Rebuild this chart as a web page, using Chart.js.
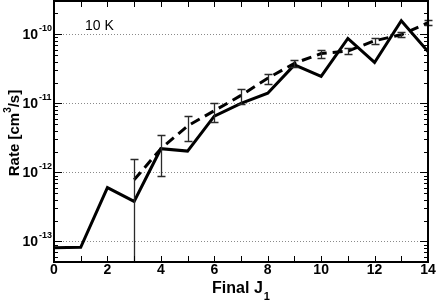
<!DOCTYPE html>
<html>
<head>
<meta charset="utf-8">
<script src="https://cdn.jsdelivr.net/npm/chart.js@4/dist/chart.umd.min.js"></script>
<style>
html,body{margin:0;padding:0;background:#fff;}
#wrap{width:436px;height:300px;}
</style>
</head>
<body>
<div id="wrap"><canvas id="c" width="436" height="300"></canvas></div>
<script>
// ---- data ----
const finalJ = [0,1,2,3,4,5,6,7,8,9,10,11,12,13,14];
const rateSolid = [8.1e-14, 8.2e-14, 6.0e-13, 3.8e-13, 2.2e-12, 2.03e-12, 6.5e-12, 1.0e-11, 1.4e-11, 3.6e-11, 2.45e-11, 8.7e-11, 3.9e-11, 1.57e-10, 5.6e-11];
const finalJDashed = [3,4,5,6,7,8,9,10,11,12,13,14];
const rateDashed = [7.8e-13, 2.2e-12, 4.7e-12, 7.8e-12, 1.3e-11, 2.3e-11, 3.8e-11, 5.25e-11, 5.7e-11, 8.05e-11, 9.85e-11, 1.47e-10];
const rateDashedErr = [8.0e-13, 1.3e-12, 1.9e-12, 2.4e-12, 3.2e-12, 3.8e-12, 5.0e-12, 6.5e-12, 6.0e-12, 8.5e-12, 8.5e-12, 1.2e-11];
const xTickLabels = ['0','2','4','6','8','10','12','14'];
const yTickExponents = ['-13','-12','-11','-10'];
const yMin = 5.03e-14, yMax = 3.03e-10;
const annotationText = '10 K';

const FONT = '"Liberation Sans", Arial, Helvetica, sans-serif';

const decor = {
  id: 'decor',
  beforeDatasetsDraw(chart) {
    const {ctx, chartArea: a, scales: {y}} = chart;
    ctx.save();
    ctx.strokeStyle = '#8a8a8a';
    ctx.lineWidth = 1;
    ctx.setLineDash([1, 2]);
    for (const e of yTickExponents) {
      const py = Math.round(y.getPixelForValue(Math.pow(10, +e))) + 0.5;
      ctx.beginPath(); ctx.moveTo(a.left, py); ctx.lineTo(a.right, py); ctx.stroke();
    }
    ctx.restore();
  },
  afterDatasetsDraw(chart) {
    const {ctx, chartArea: a, scales: {x, y}} = chart;
    ctx.save();
    // error bars
    ctx.strokeStyle = '#2a2a2a';
    ctx.lineWidth = 1.3;
    for (let i = 0; i < finalJDashed.length; i++) {
      const px = Math.round(x.getPixelForValue(finalJDashed[i])) + 0.5;
      const hi = rateDashed[i] + rateDashedErr[i];
      const lo = rateDashed[i] - rateDashedErr[i];
      const pyHi = Math.round(y.getPixelForValue(hi)) + 0.5;
      const pyLo = lo > 0 ? Math.round(y.getPixelForValue(lo)) + 0.5 : a.bottom;
      ctx.beginPath();
      ctx.moveTo(px, pyHi); ctx.lineTo(px, Math.min(pyLo, a.bottom));
      ctx.moveTo(px - 4, pyHi); ctx.lineTo(px + 4, pyHi);
      if (lo > 0) { ctx.moveTo(px - 4, pyLo); ctx.lineTo(px + 4, pyLo); }
      ctx.stroke();
    }
    // ticks
    ctx.strokeStyle = '#000';
    ctx.lineWidth = 1;
    for (let j = Math.ceil(x.min); j <= x.max; j++) {
      const px = Math.round(x.getPixelForValue(j)) + 0.5;
      ctx.beginPath();
      ctx.moveTo(px, a.bottom); ctx.lineTo(px, a.bottom - 6);
      ctx.moveTo(px, a.top); ctx.lineTo(px, a.top + 6);
      ctx.stroke();
    }
    for (let e = -14; e <= -10; e++) {
      for (let m = 1; m <= 9; m++) {
        const v = m * Math.pow(10, e);
        if (v < yMin || v > yMax) continue;
        const py = Math.round(y.getPixelForValue(v)) + 0.5;
        const len = m === 1 ? 8 : 4;
        ctx.beginPath();
        ctx.moveTo(a.left, py); ctx.lineTo(a.left + len, py);
        ctx.moveTo(a.right, py); ctx.lineTo(a.right - len, py);
        ctx.stroke();
      }
    }
    // border
    ctx.lineWidth = 2;
    ctx.strokeRect(a.left, a.top, a.right - a.left, a.bottom - a.top);

    // x tick labels
    ctx.fillStyle = '#000';
    ctx.font = 'bold 14px ' + FONT;
    ctx.textAlign = 'center';
    ctx.textBaseline = 'alphabetic';
    for (const t of xTickLabels) {
      ctx.fillText(t, x.getPixelForValue(+t), 274);
    }
    // y tick labels
    for (const e of yTickExponents) {
      const py = y.getPixelForValue(Math.pow(10, +e));
      ctx.font = 'bold 14px ' + FONT;
      ctx.textAlign = 'right';
      ctx.fillText('10', 38, py + 5);
      ctx.font = 'bold 9px ' + FONT;
      ctx.textAlign = 'left';
      ctx.fillText(e, 39, py - 3);
    }
    // x title
    ctx.font = 'bold 16px ' + FONT;
    ctx.textAlign = 'left';
    const t1 = 'Final J';
    const w1 = ctx.measureText(t1).width;
    ctx.font = 'bold 11px ' + FONT;
    const w2 = ctx.measureText('1').width;
    const cx = (a.left + a.right) / 2;
    const sx = cx - (w1 + w2 + 1) / 2;
    ctx.font = 'bold 16px ' + FONT;
    ctx.fillText(t1, sx, 293);
    ctx.font = 'bold 11px ' + FONT;
    ctx.fillText('1', sx + w1 + 1, 300);
    // y title
    ctx.save();
    ctx.translate(19, 133);
    ctx.rotate(-Math.PI / 2);
    const p1 = 'Rate [cm', p2 = '3', p3 = '/s]';
    ctx.font = 'bold 15px ' + FONT;
    const wa = ctx.measureText(p1).width, wc = ctx.measureText(p3).width;
    ctx.font = 'bold 10px ' + FONT;
    const wb = ctx.measureText(p2).width;
    let sx2 = -(wa + wb + wc) / 2;
    ctx.font = 'bold 15px ' + FONT;
    ctx.fillText(p1, sx2, 0);
    ctx.font = 'bold 10px ' + FONT;
    ctx.fillText(p2, sx2 + wa, -8);
    ctx.font = 'bold 15px ' + FONT;
    ctx.fillText(p3, sx2 + wa + wb, 0);
    ctx.restore();
    // annotation
    ctx.font = '14px ' + FONT;
    ctx.textAlign = 'left';
    ctx.fillText(annotationText, 85, 30);
    ctx.restore();
  }
};

new Chart(document.getElementById('c'), {
  type: 'line',
  data: {
    datasets: [
      {
        label: 'solid',
        data: finalJ.map((j, i) => ({x: j, y: rateSolid[i]})),
        borderColor: '#000',
        borderWidth: 3,
        pointRadius: 0,
        tension: 0,
        fill: false
      },
      {
        label: 'dashed',
        data: finalJDashed.map((j, i) => ({x: j, y: rateDashed[i]})),
        borderColor: '#000',
        borderWidth: 3,
        borderDash: [10, 6],
        pointRadius: 0,
        tension: 0,
        fill: false
      }
    ]
  },
  options: {
    responsive: false,
    animation: false,
    devicePixelRatio: 1,
    layout: {padding: {left: 54, right: 8, top: 1, bottom: 38}},
    plugins: {legend: {display: false}, tooltip: {enabled: false}},
    scales: {
      x: {type: 'linear', min: 0, max: 14, display: false},
      y: {type: 'logarithmic', min: yMin, max: yMax, display: false}
    }
  },
  plugins: [decor]
});
</script>
</body>
</html>
